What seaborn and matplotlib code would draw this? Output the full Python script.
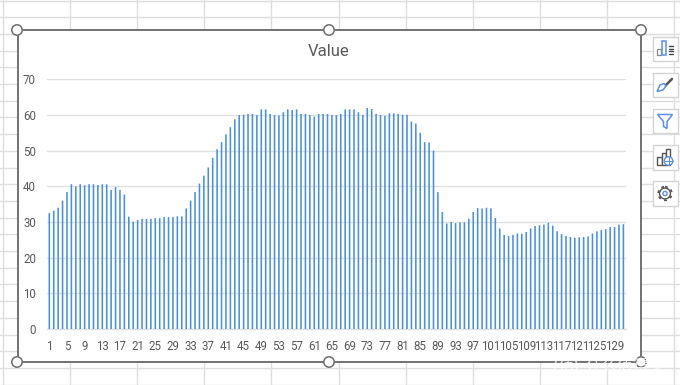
import matplotlib
matplotlib.use("Agg")
import matplotlib.pyplot as plt
from matplotlib.patches import Rectangle, Circle, Polygon
from matplotlib.lines import Line2D
import seaborn as sns
import pandas as pd

title = "Value"
values = [32.5, 33.2, 34.0, 36.0, 38.4, 40.6, 40.0, 40.6, 40.3, 40.6,
          40.6, 40.4, 40.6, 40.6, 39.0, 39.8, 39.0, 37.7, 31.5, 30.1,
          30.6, 30.9, 30.9, 30.9, 31.1, 31.1, 31.4, 31.4, 31.4, 31.6,
          31.6, 33.8, 36.0, 38.4, 40.8, 43.0, 45.3, 48.0, 50.4, 52.4,
          54.6, 56.6, 58.8, 60.0, 60.1, 60.3, 60.3, 60.0, 61.6, 61.6,
          60.3, 60.0, 59.9, 60.8, 61.6, 61.4, 61.6, 60.3, 60.3, 60.0,
          59.6, 60.3, 60.3, 60.3, 60.0, 60.0, 60.3, 61.6, 61.6, 61.6,
          60.8, 60.0, 62.0, 61.7, 60.3, 60.0, 59.8, 60.5, 60.5, 60.3,
          60.1, 60.1, 58.2, 57.6, 55.0, 52.4, 52.3, 50.0, 38.4, 32.8,
          29.6, 30.0, 29.7, 29.9, 29.9, 30.9, 32.8, 33.9, 33.8, 34.0,
          33.8, 31.1, 28.2, 26.4, 26.1, 26.4, 26.8, 26.7, 27.2, 28.2,
          28.9, 29.1, 29.3, 29.8, 29.0, 27.4, 26.6, 26.1, 25.8, 25.6,
          25.7, 25.8, 26.0, 26.8, 27.4, 27.7, 28.0, 28.6, 28.6, 29.3, 29.4]
categories = list(range(1, len(values) + 1))
y_ticks = [0, 10, 20, 30, 40, 50, 60, 70]
watermark = "什么值得买"

W, H = 680, 385
BAR = "#4A90D9"
TXT = "#595959"
GRID = "#E0E0E0"
SHEET = "#DEDEDE"

sns.set_theme(style="white")
plt.rcParams["font.family"] = ["Roboto", "Noto Sans CJK SC", "DejaVu Sans"]

fig = plt.figure(figsize=(W / 100, H / 100), dpi=100, facecolor="white")

# pixel-space backdrop: spreadsheet, chart frame, handles, side buttons
bg = fig.add_axes([0, 0, 1, 1], zorder=0)
bg.set_xlim(0, W); bg.set_ylim(H, 0); bg.axis("off")
for i in range(11):
    x = 3 + 67.1 * i
    bg.add_line(Line2D([x, x], [0, H], color=SHEET, lw=1))
for i in range(24):
    y = 0.5 + 16.7 * i
    bg.add_line(Line2D([0, W], [y, y], color=SHEET, lw=1))
bg.add_patch(Rectangle((17.5, 30), 623.8, 331.8, fc="white", ec="#5A5A5A", lw=1.2, zorder=2))
for hx in (17, 329, 641):
    for hy in (30, 362):
        bg.add_patch(Circle((hx, hy), 5.2, fc="white", ec="#6E6E6E", lw=1.1, zorder=3))

BLUE = "#5B8FE8"
DARK = "#555555"
for top in (36.5, 72.5, 108.5, 145, 181):
    bg.add_patch(Rectangle((653, top), 24.5, 24.5, fc="white", ec="#D4D4D4", lw=1, zorder=3))
# chart elements icon
bg.add_patch(Rectangle((657, 49), 3.5, 6, fc="white", ec="#888888", lw=0.9, zorder=4))
bg.add_patch(Rectangle((662, 41), 3.8, 14, fc="white", ec=BLUE, lw=1.1, zorder=4))
for yy in (46, 48.5, 51, 53.5):
    bg.add_line(Line2D([669, 673], [yy, yy], color="#444444", lw=1, zorder=4))
# brush icon
bg.add_line(Line2D([664, 672], [87, 79], color=DARK, lw=1.8, zorder=4))
bg.add_patch(Polygon([[657, 91.5], [660, 85], [664, 83.5], [666, 86], [663, 90]],
                     fc="white", ec=BLUE, lw=1.1, zorder=4))
# filter icon
bg.add_patch(Polygon([[657.5, 114.5], [672.5, 114.5], [667, 121.5], [667, 128.5],
                      [663.5, 126.5], [663.5, 121.5]],
                     fc="white", ec=BLUE, lw=1.1, zorder=4))
# map chart icon
bg.add_patch(Rectangle((657, 157), 4.5, 7.5, fc="white", ec=DARK, lw=1, zorder=4))
bg.add_patch(Rectangle((661.5, 153), 4, 11.5, fc="white", ec=DARK, lw=1, zorder=4))
bg.add_patch(Rectangle((665.5, 149), 4.5, 15.5, fc="white", ec=DARK, lw=1, zorder=4))
bg.add_patch(Circle((668.5, 161), 4.3, fc="white", ec=BLUE, lw=1, zorder=5))
bg.add_line(Line2D([664.2, 672.8], [161, 161], color=BLUE, lw=0.8, zorder=6))
bg.add_line(Line2D([668.5, 668.5], [156.7, 165.3], color=BLUE, lw=0.8, zorder=6))
# gear icon
bg.add_patch(Circle((665, 193.5), 6.8, fc="none", ec=DARK, lw=1.3, ls=(0, (1.6, 2.0)), zorder=4))
bg.add_patch(Circle((665, 193.5), 5.4, fc="white", ec=DARK, lw=1.0, zorder=4))
bg.add_patch(Circle((665, 193.5), 2.1, fc="white", ec=BLUE, lw=1.0, zorder=5))

# watermark
bg.add_patch(Circle((566, 366), 11, fc="none", ec="white", lw=1.2, alpha=0.7, zorder=6))
bg.text(566, 366, "值", color="white", fontsize=11, ha="center", va="center",
        family=["Noto Sans CJK SC"], alpha=0.8, zorder=7)
bg.text(625, 366, watermark, color="white", fontsize=11.5, ha="center", va="center",
        family=["Noto Sans CJK SC"], alpha=0.8, zorder=7)

# the chart itself
left, right, top, bottom = 47.1, 625.6, 79.4, 329.0
ax = fig.add_axes([left / W, 1 - bottom / H, (right - left) / W, (bottom - top) / H], zorder=1)
ax.patch.set_alpha(0)
df = pd.DataFrame({"category": categories, "value": values})
sns.barplot(data=df, x="category", y="value", color=BAR, saturation=1, width=0.36,
            linewidth=0, edgecolor="none", ax=ax, zorder=3)
for bar in ax.patches:
    bar.set_snap(False)
ax.set_ylim(0, 70)
ax.set_xlim(-0.5, len(values) - 0.5)
ax.set_yticks(y_ticks)
ax.set_xticks(range(0, len(values), 4))
ax.set_xticklabels([str(c) for c in categories[::4]])
ax.set_xlabel(""); ax.set_ylabel("")
ax.grid(axis="y", color=GRID, lw=1)
ax.grid(axis="x", visible=False)
ax.set_axisbelow(True)
for s in ("top", "right", "left"):
    ax.spines[s].set_visible(False)
ax.spines["bottom"].set_color(GRID)
ax.spines["bottom"].set_linewidth(1)
ax.tick_params(axis="both", length=0, labelsize=8.3, labelcolor=TXT)
ax.tick_params(axis="x", pad=8)
ax.tick_params(axis="y", pad=8)
bg.text(329, 51.5, title, color=TXT, fontsize=12, ha="center", va="center", zorder=7)

fig.savefig("out.png", dpi=100)
